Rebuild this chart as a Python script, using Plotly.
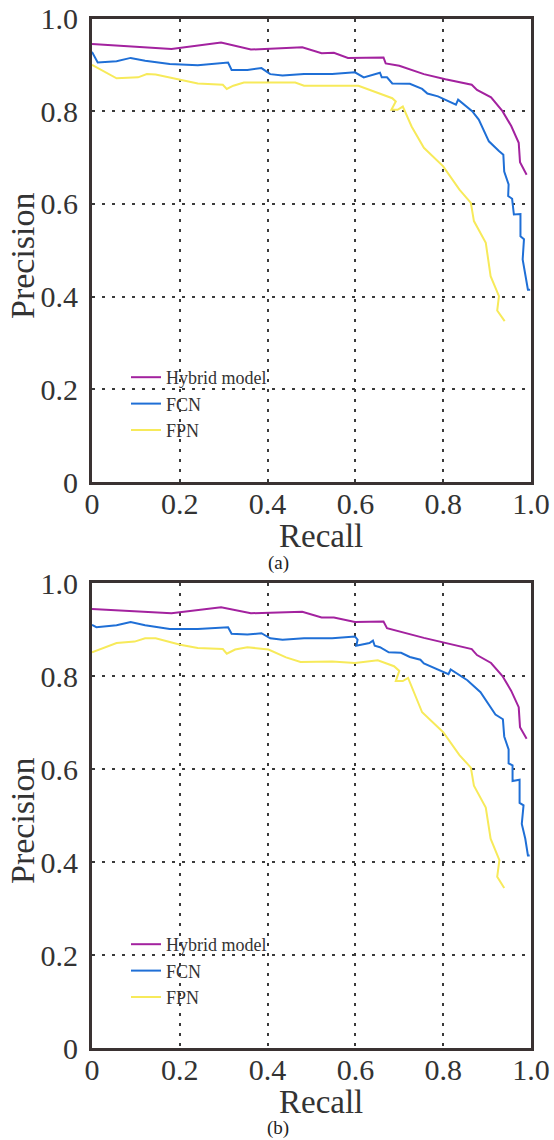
import plotly.graph_objects as go

# ---------------- data (a) ----------------
hyb_a_x = [0, 0.181, 0.294, 0.362, 0.479, 0.523, 0.551, 0.583, 0.664, 0.669, 0.700, 0.756, 0.805, 0.865, 0.877, 0.909, 0.935, 0.955, 0.972, 0.975, 0.990]
hyb_a_y = [0.945, 0.934, 0.948, 0.933, 0.938, 0.925, 0.926, 0.915, 0.916, 0.903, 0.898, 0.880, 0.869, 0.857, 0.846, 0.830, 0.800, 0.768, 0.732, 0.690, 0.663]

fcn_a_x = [0, 0.013, 0.056, 0.088, 0.121, 0.177, 0.241, 0.310, 0.318, 0.354, 0.386, 0.406, 0.434, 0.483, 0.547, 0.599, 0.619, 0.656, 0.660, 0.672, 0.684, 0.724, 0.752, 0.764, 0.788, 0.829, 0.834, 0.866, 0.881, 0.904, 0.927, 0.937, 0.939, 0.949, 0.948, 0.957, 0.961, 0.976, 0.976, 0.984, 0.981, 0.987, 0.993, 0.998]
fcn_a_y = [0.928, 0.905, 0.908, 0.915, 0.909, 0.902, 0.899, 0.905, 0.889, 0.889, 0.893, 0.880, 0.877, 0.880, 0.880, 0.884, 0.873, 0.883, 0.873, 0.873, 0.860, 0.859, 0.848, 0.838, 0.832, 0.814, 0.825, 0.800, 0.782, 0.735, 0.714, 0.706, 0.670, 0.642, 0.617, 0.611, 0.577, 0.578, 0.530, 0.524, 0.480, 0.451, 0.415, 0.415]

fpn_a_x = [0, 0.056, 0.105, 0.125, 0.145, 0.201, 0.241, 0.298, 0.307, 0.322, 0.346, 0.463, 0.483, 0.607, 0.651, 0.684, 0.692, 0.682, 0.696, 0.708, 0.728, 0.756, 0.800, 0.837, 0.863, 0.870, 0.897, 0.908, 0.927, 0.923, 0.940]
fpn_a_y = [0.900, 0.871, 0.873, 0.880, 0.879, 0.868, 0.860, 0.857, 0.848, 0.855, 0.862, 0.862, 0.855, 0.855, 0.839, 0.828, 0.821, 0.803, 0.803, 0.810, 0.767, 0.721, 0.681, 0.631, 0.602, 0.563, 0.516, 0.444, 0.401, 0.370, 0.347]

# ---------------- data (b) ----------------
hyb_b_x = [0, 0.181, 0.294, 0.362, 0.479, 0.523, 0.551, 0.599, 0.664, 0.672, 0.756, 0.805, 0.865, 0.877, 0.909, 0.935, 0.955, 0.972, 0.975, 0.990]
hyb_b_y = [0.944, 0.935, 0.948, 0.935, 0.938, 0.926, 0.926, 0.916, 0.917, 0.903, 0.882, 0.871, 0.858, 0.845, 0.828, 0.800, 0.768, 0.733, 0.690, 0.665]

fcn_b_x = [0, 0.010, 0.056, 0.088, 0.121, 0.177, 0.241, 0.310, 0.318, 0.354, 0.386, 0.406, 0.434, 0.483, 0.547, 0.599, 0.605, 0.602, 0.632, 0.640, 0.644, 0.656, 0.676, 0.704, 0.724, 0.748, 0.756, 0.788, 0.812, 0.817, 0.855, 0.885, 0.919, 0.936, 0.939, 0.949, 0.949, 0.958, 0.958, 0.974, 0.974, 0.983, 0.979, 0.987, 0.993, 0.997]
fcn_b_y = [0.910, 0.905, 0.909, 0.916, 0.909, 0.901, 0.901, 0.905, 0.891, 0.889, 0.892, 0.881, 0.878, 0.881, 0.881, 0.885, 0.878, 0.865, 0.871, 0.876, 0.865, 0.862, 0.851, 0.850, 0.841, 0.835, 0.827, 0.814, 0.804, 0.814, 0.791, 0.765, 0.717, 0.707, 0.670, 0.642, 0.612, 0.608, 0.574, 0.577, 0.527, 0.522, 0.482, 0.450, 0.414, 0.414]

fpn_b_x = [0, 0.056, 0.097, 0.121, 0.145, 0.201, 0.241, 0.298, 0.307, 0.326, 0.354, 0.402, 0.442, 0.475, 0.547, 0.599, 0.651, 0.688, 0.700, 0.692, 0.708, 0.720, 0.752, 0.800, 0.837, 0.863, 0.870, 0.897, 0.908, 0.928, 0.923, 0.939]
fpn_b_y = [0.851, 0.871, 0.874, 0.881, 0.881, 0.867, 0.860, 0.858, 0.848, 0.857, 0.862, 0.857, 0.840, 0.830, 0.831, 0.828, 0.834, 0.821, 0.811, 0.789, 0.789, 0.796, 0.722, 0.679, 0.630, 0.603, 0.564, 0.517, 0.450, 0.404, 0.368, 0.344]

series_names = ["Hybrid model", "FCN", "FPN"]
series_colors = ["#a3229f", "#1f6fd6", "#f7ea5a"]
tick_vals = [0, 0.2, 0.4, 0.6, 0.8, 1.0]
tick_text = ["0", "0.2", "0.4", "0.6", "0.8", "1.0"]
panel_labels = ["(a)", "(b)"]

W, H = 554, 1140
FONT = "Liberation Serif, Times New Roman, serif"
TXT = "#333333"
FRAME = "#3a3232"

fig = go.Figure()

panels = [
    ([hyb_a_x, fcn_a_x, fpn_a_x], [hyb_a_y, fcn_a_y, fpn_a_y], "x", "y", "legend"),
    ([hyb_b_x, fcn_b_x, fpn_b_x], [hyb_b_y, fcn_b_y, fpn_b_y], "x2", "y2", "legend2"),
]
for xs, ys, xa, ya, lg in panels:
    for name, color, x, y in zip(series_names, series_colors, xs, ys):
        fig.add_trace(go.Scatter(x=x, y=y, mode="lines", name=name,
                                 line=dict(color=color, width=2),
                                 xaxis=xa, yaxis=ya, legend=lg))

x_dom = [92 / W, 531 / W]
top_dom = [1 - 482 / H, 1 - 18.5 / H]
bot_dom = [1 - 1048 / H, 1 - 583 / H]

def axis(domain, anchor, standoff):
    return dict(domain=domain, anchor=anchor, range=[0, 1], automargin=False,
                tickvals=tick_vals, ticktext=tick_text,
                showgrid=True, gridcolor="#3a3a3a", gridwidth=2, griddash="3px,7px",
                zeroline=False, showline=True, linecolor=FRAME, linewidth=3, mirror=True,
                ticks="", ticklabelstandoff=standoff,
                tickfont=dict(family=FONT, size=30, color=TXT))

legend_common = dict(bgcolor="rgba(0,0,0,0)", borderwidth=0, xanchor="left", yanchor="top",
                     font=dict(family=FONT, size=18, color=TXT), itemwidth=30,
                     tracegroupgap=0)

fig.update_layout(
    width=W, height=H, autosize=False,
    margin=dict(l=0, r=0, t=0, b=0, autoexpand=False),
    paper_bgcolor="white", plot_bgcolor="white",
    xaxis=axis(x_dom, "y", -7), yaxis=axis(top_dom, "x", 5),
    xaxis2=axis(x_dom, "y2", -7), yaxis2=axis(bot_dom, "x2", 5),
    legend=dict(x=126 / W, y=1 - 359 / H, **legend_common),
    legend2=dict(x=126 / W, y=1 - 926 / H, **legend_common),
    showlegend=True,
)

# axis titles and panel labels
for yc_title, xc_recall, yc_recall, lab, yc_lab in [(256, 321, 536, panel_labels[0], 563),
                                                    (821, 321, 1102, panel_labels[1], 1128)]:
    fig.add_annotation(text="Precision", x=22 / W, y=1 - yc_title / H, xref="paper", yref="paper",
                       textangle=-90, showarrow=False, xanchor="center", yanchor="middle",
                       font=dict(family=FONT, size=34, color=TXT))
    fig.add_annotation(text="Recall", x=xc_recall / W, y=1 - yc_recall / H, xref="paper", yref="paper",
                       showarrow=False, xanchor="center", yanchor="middle",
                       font=dict(family=FONT, size=33, color=TXT))
    fig.add_annotation(text=lab, x=278 / W, y=1 - yc_lab / H, xref="paper", yref="paper",
                       showarrow=False, xanchor="center", yanchor="middle",
                       font=dict(family=FONT, size=19, color="#222222"))

fig.write_html("out.html", post_script="document.body.style.margin='0';",
               config={"displayModeBar": False})
